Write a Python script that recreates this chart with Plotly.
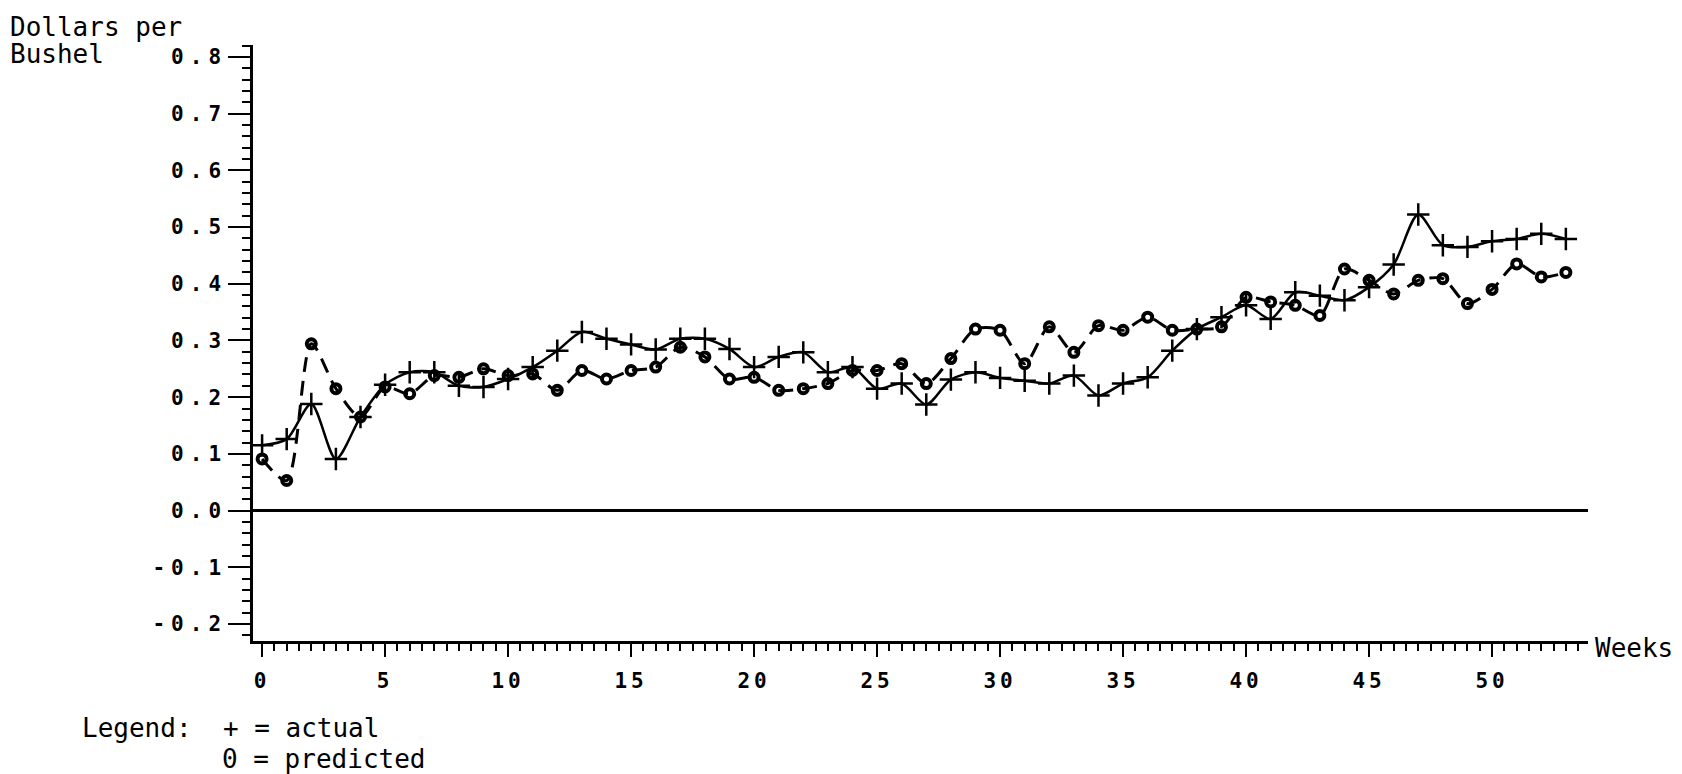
import plotly.graph_objects as go

# ---- data ----
weeks = list(range(0, 54))
actual = [0.115, 0.126, 0.188, 0.091, 0.165, 0.222, 0.244, 0.244, 0.220, 0.218,
          0.232, 0.253, 0.282, 0.315, 0.303, 0.293, 0.284, 0.303, 0.303, 0.285,
          0.253, 0.271, 0.279, 0.244, 0.253, 0.215, 0.224, 0.187, 0.231, 0.244,
          0.234, 0.229, 0.224, 0.238, 0.203, 0.224, 0.235, 0.282, 0.320, 0.341,
          0.362, 0.338, 0.385, 0.379, 0.371, 0.394, 0.434, 0.522, 0.468, 0.465,
          0.475, 0.479, 0.488, 0.479]
predicted = [0.091, 0.053, 0.294, 0.215, 0.165, 0.218, 0.206, 0.238, 0.235, 0.250,
             0.238, 0.241, 0.212, 0.247, 0.232, 0.247, 0.253, 0.288, 0.271, 0.232,
             0.235, 0.212, 0.215, 0.224, 0.247, 0.247, 0.259, 0.224, 0.268, 0.320,
             0.318, 0.259, 0.324, 0.279, 0.326, 0.318, 0.341, 0.318, 0.320, 0.324,
             0.376, 0.368, 0.362, 0.344, 0.426, 0.406, 0.382, 0.406, 0.409, 0.365,
             0.390, 0.435, 0.412, 0.420]
x_tickvals = [0, 5, 10, 15, 20, 25, 30, 35, 40, 45, 50]
x_ticktext = ["0", "5", "10", "15", "20", "25", "30", "35", "40", "45", "50"]
y_tickvals = [-0.2, -0.1, 0.0, 0.1, 0.2, 0.3, 0.4, 0.5, 0.6, 0.7, 0.8]
y_ticktext = ["-0.2", "-0.1", "0.0", "0.1", "0.2", "0.3", "0.4", "0.5", "0.6", "0.7", "0.8"]

# ---- layout geometry ----
W, H = 1682, 774
L, R, T, B = 245, 102, 37, 141
PW, PH = W - L - R, H - T - B

def px(xp):
    return (xp - L) / PW

def py(yp):
    return (H - B - yp) / PH

MONO = "DejaVu Sans Mono"
INK = "black"

fig = go.Figure()
fig.add_trace(go.Scatter(
    x=weeks, y=predicted, mode="lines+markers", name="predicted",
    line=dict(color=INK, width=3, dash="15px,9px", shape="spline", smoothing=0.8),
    marker=dict(symbol="circle-open", size=9, color=INK, line=dict(width=4, color=INK)),
))
fig.add_trace(go.Scatter(
    x=weeks, y=actual, mode="lines+markers", name="actual",
    line=dict(color=INK, width=2.5, shape="spline", smoothing=0.8),
    marker=dict(symbol="cross-thin", size=16, color=INK, line=dict(width=2.5, color=INK)),
))

fig.update_layout(
    width=W, height=H,
    margin=dict(l=L, r=R, t=T, b=B, pad=0),
    paper_bgcolor="white", plot_bgcolor="white",
    showlegend=False,
    font=dict(family=MONO, color=INK),
)
fig.update_xaxes(
    range=[-0.37, 53.9], showgrid=False, zeroline=False,
    showline=True, linecolor=INK, linewidth=2.5,
    tickmode="array", tickvals=x_tickvals, ticktext=x_ticktext,
    ticks="outside", ticklen=13, tickwidth=2, tickcolor=INK,
    ticklabelstandoff=6,
    tickfont=dict(family=MONO, size=21, weight="bold", color=INK),
    minor=dict(tick0=0, dtick=0.5, ticks="outside", ticklen=7, tickwidth=1.5, tickcolor=INK),
)
fig.update_yaxes(
    range=[-0.23, 0.821], showgrid=False,
    zeroline=True, zerolinecolor=INK, zerolinewidth=3,
    showline=True, linecolor=INK, linewidth=2.5,
    tickmode="array", tickvals=y_tickvals, ticktext=y_ticktext,
    ticks="outside", ticklen=22, tickwidth=2, tickcolor=INK,
    ticklabelstandoff=-3,
    tickfont=dict(family=MONO, size=21, weight="bold", color=INK),
    minor=dict(tick0=0, dtick=0.02, ticks="outside", ticklen=8, tickwidth=1.5, tickcolor=INK),
)

ann_font = dict(family=MONO, size=26, color=INK)
texts = [
    ("Dollars per", 0, 19),
    ("Bushel", 0, 46),
    ("Weeks", 1585, 640),
    ("Legend:\u00a0\u00a0+ = actual", 72, 720),
    ("0 = predicted", 212, 751),
]
for txt, xp, yp in texts:
    fig.add_annotation(xref="paper", yref="paper", x=px(xp), y=py(yp),
                       xanchor="left", yanchor="middle", text=txt,
                       showarrow=False, font=ann_font)

# widen the plotter-style tick lettering
post = """
var gd = document.getElementById('{plot_id}');
function spread() {
  gd.querySelectorAll('.ytick text').forEach(function(t){ t.style.letterSpacing = '6px'; });
  gd.querySelectorAll('.xtick text').forEach(function(t){ t.style.letterSpacing = '4px'; });
}
spread();
if (gd.on) { gd.on('plotly_afterplot', spread); }
"""

fig.write_html("out.html", post_script=post)
